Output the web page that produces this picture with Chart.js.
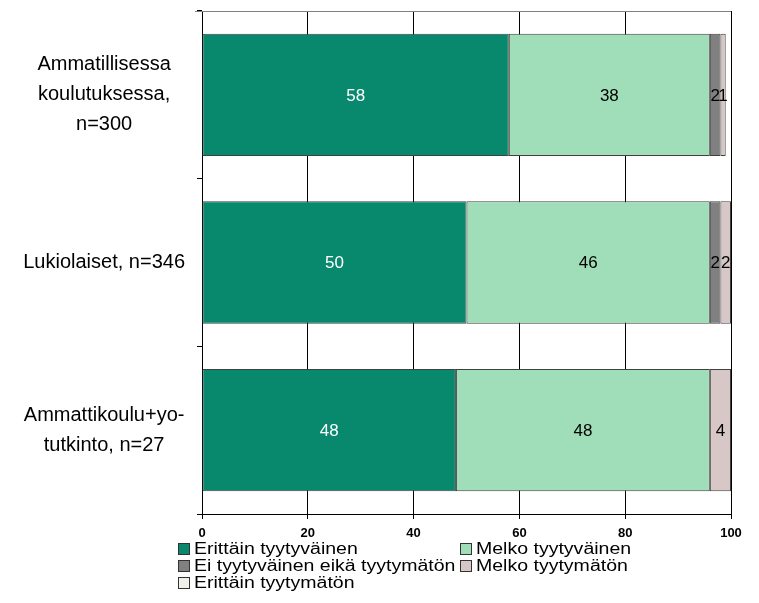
<!DOCTYPE html>
<html>
<head>
<meta charset="utf-8">
<script src="https://cdn.jsdelivr.net/npm/chart.js@4"></script>
<style>
  html, body { margin: 0; padding: 0; background: #fff; }
  #wrap { position: relative; width: 759px; height: 603px; }
  #legend {
    position: absolute; left: 178px; top: 540px; width: 560px;
    font: 16px "Liberation Sans", Arial, sans-serif; color: #000;
    display: grid; grid-template-columns: 282px 280px; line-height: 17px;
  }
  #legend span.item { display: flex; align-items: center; white-space: nowrap; }
  #legend i { display: inline-block; width: 10px; height: 10px; border: 1px solid #333; margin-right: 4px; flex: none; }
  #legend b { font-weight: normal; display: inline-block; transform: scaleX(1.22); transform-origin: left center; }
</style>
</head>
<body>
<div id="wrap">
  <canvas id="c" width="759" height="603"></canvas>
  <div id="legend"></div>
</div>
<script>
// categories and values
const groups = [
  ['Ammatillisessa', 'koulutuksessa,', 'n=300'],
  'Lukiolaiset, n=346',
  ['Ammattikoulu+yo-', 'tutkinto, n=27']
];
const seriesNames = ['Erittäin tyytyväinen', 'Melko tyytyväinen', 'Ei tyytyväinen eikä tyytymätön', 'Melko tyytymätön', 'Erittäin tyytymätön'];
const veryPleased = [58, 50, 48];
const fairlyPleased = [38, 46, 48];
const neutral = [2, 2, 0];
const fairlyDispleased = [1, 2, 4];
const veryDispleased = [0, 0, 0];
const xTicks = [0, 20, 40, 60, 80, 100];

const colors = ['#08896d', '#a0deb9', '#808080', '#d7c7c7', '#f1f1eb'];
const labelColors = ['#ffffff', '#000000', '#000000', '#000000', '#000000'];
const values = [veryPleased, fairlyPleased, neutral, fairlyDispleased, veryDispleased];

// value labels in the middle of each segment
const segLabels = {
  id: 'segLabels',
  afterDatasetsDraw(chart) {
    const ctx = chart.ctx;
    ctx.save();
    ctx.font = '17px "Liberation Sans", Arial, sans-serif';
    ctx.textAlign = 'center';
    ctx.textBaseline = 'middle';
    chart.data.datasets.forEach((ds, i) => {
      chart.getDatasetMeta(i).data.forEach((bar, j) => {
        const v = ds.data[j];
        if (!v) return;
        ctx.fillStyle = labelColors[i];
        ctx.fillText(String(v), (bar.x + bar.base) / 2, bar.y + 1);
      });
    });
    ctx.restore();
  }
};

// grey top border of the plot
const topLine = {
  id: 'topLine',
  afterDraw(chart) {
    const a = chart.chartArea, ctx = chart.ctx;
    ctx.save();
    ctx.strokeStyle = '#808080';
    ctx.lineWidth = 1;
    ctx.beginPath();
    ctx.moveTo(a.left - 7, a.top + 0.5);
    ctx.lineTo(a.right, a.top + 0.5);
    ctx.stroke();
    ctx.restore();
  }
};

new Chart(document.getElementById('c'), {
  type: 'bar',
  data: {
    labels: groups,
    datasets: seriesNames.map((name, i) => ({
      label: name,
      data: values[i],
      backgroundColor: colors[i],
      borderColor: '#404040',
      borderWidth: 1,
      borderSkipped: false,
      categoryPercentage: 1,
      barPercentage: 0.73
    }))
  },
  options: {
    indexAxis: 'y',
    responsive: false,
    animation: false,
    layout: { padding: { top: 11, right: 28, bottom: 63, left: 0 } },
    plugins: { legend: { display: false }, tooltip: { enabled: false } },
    scales: {
      x: {
        stacked: true,
        min: 0, max: 100,
        afterBuildTicks: s => { s.ticks = xTicks.map(v => ({ value: v })); },
        afterFit: s => { s.height = 26; s.paddingLeft = 0; s.paddingRight = 0; },
        grid: { color: '#000', tickLength: 5 },
        border: { color: '#000' },
        ticks: {
          padding: 7, color: '#000', maxRotation: 0,
          font: { family: '"Liberation Sans", Arial, sans-serif', size: 13, weight: 'bold' }
        }
      },
      y: {
        stacked: true,
        afterFit: s => { s.width = 202; s.paddingTop = 0; s.paddingBottom = 0; },
        grid: { drawOnChartArea: false, color: '#000', tickLength: 5, offset: true },
        border: { color: '#000' },
        ticks: {
          crossAlign: 'center', padding: 12, color: '#000',
          font: { family: '"Liberation Sans", Arial, sans-serif', size: 20, lineHeight: 1.5 }
        }
      }
    }
  },
  plugins: [segLabels, topLine]
});

// legend, two columns
const legend = document.getElementById('legend');
seriesNames.forEach((name, i) => {
  const el = document.createElement('span');
  el.className = 'item';
  el.innerHTML = '<i style="background:' + colors[i] + '"></i><b>' + name + '</b>';
  legend.appendChild(el);
});
</script>
</body>
</html>
